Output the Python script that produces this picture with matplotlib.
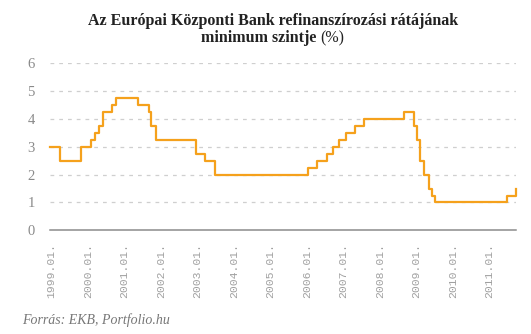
import numpy as np
import pandas as pd
import matplotlib
matplotlib.use("Agg")
import matplotlib.pyplot as plt

# EKB refinanszírozási ráta (minimum) - változás dátumai és szintek
change_dates = [
    "1999-01-01", "1999-04-09", "1999-11-05", "2000-02-04", "2000-03-17",
    "2000-04-28", "2000-06-09", "2000-09-01", "2000-10-06", "2001-05-11",
    "2001-08-31", "2001-09-18", "2001-11-09", "2002-12-06", "2003-03-07",
    "2003-06-06", "2005-12-06", "2006-03-08", "2006-06-15", "2006-08-09",
    "2006-10-11", "2006-12-13", "2007-03-14", "2007-06-13", "2008-07-09",
    "2008-10-15", "2008-11-12", "2008-12-10", "2009-01-21", "2009-03-11",
    "2009-04-08", "2009-05-13", "2011-04-13", "2011-07-13",
]
rates = [
    3.00, 2.50, 3.00, 3.25, 3.50,
    3.75, 4.25, 4.50, 4.75, 4.50,
    4.25, 3.75, 3.25, 2.75, 2.50,
    2.00, 2.25, 2.50, 2.75, 3.00,
    3.25, 3.50, 3.75, 4.00, 4.25,
    3.75, 3.25, 2.50, 2.00, 1.50,
    1.25, 1.00, 1.25, 1.50,
]
tick_years = list(range(1999, 2012))
tick_labels = [f"{y}.01." for y in tick_years]
y_ticks = [0, 1, 2, 3, 4, 5, 6]

# dátum -> év tört (1999.01.01 = 0)
d = pd.to_datetime(change_dates)
x = (d.year - 1999) + (d.dayofyear - 1) / 365.0
x = np.asarray(x, dtype=float)

fig = plt.figure(figsize=(5.31, 3.34), dpi=100)
ax = fig.add_axes([50 / 531, 1 - 230.3 / 334, 466 / 531, 167 / 334])

ax.plot(x, rates, drawstyle="steps-post", color="#F5A11C", lw=1.6,
        clip_on=False, zorder=3)

ax.set_xlim(0, x[-1])
ax.set_ylim(0, 6)

for v in y_ticks[1:]:
    ax.axhline(v, color="#cfcfcf", lw=0.9, ls=(0, (3, 4)), zorder=1)
ax.axhline(0, color="#8c8c8c", lw=1.1, zorder=2, clip_on=False)

for s in ax.spines.values():
    s.set_visible(False)

ax.set_yticks(y_ticks)
ax.set_yticklabels([str(v) for v in y_ticks], fontfamily="Liberation Serif",
                   fontsize=10.5, color="#8a8a8a")
ax.tick_params(axis="y", length=0, pad=11)

# a feliratok kicsit sűrűbben állnak, mint az adatskála
tick_pos = (np.array(tick_years) - 1999) * 0.981 + 0.045
ax.set_xticks(tick_pos)
ax.set_xticklabels(tick_labels, rotation=90, fontfamily="Liberation Mono",
                   fontsize=8.2, color="#a0a0a0")
ax.tick_params(axis="x", length=0, pad=9)

# cím
fig.text(273 / 531, 1 - 21 / 334, "Az Európai Központi Bank refinanszírozási rátájának",
         ha="center", va="center", fontfamily="Liberation Serif",
         fontweight="bold", fontsize=11.5, color="#222222")
t_bold = fig.text(0, 1 - 38 / 334, "minimum szintje ", ha="left", va="center",
                  fontfamily="Liberation Serif", fontweight="bold",
                  fontsize=11.5, color="#222222")
t_norm = fig.text(0, 1 - 38 / 334, "(%)", ha="left", va="center",
                  fontfamily="Liberation Serif", fontsize=11.5, color="#222222")
fig.canvas.draw()
r = fig.canvas.get_renderer()
w1 = t_bold.get_window_extent(r).width
w2 = t_norm.get_window_extent(r).width
x0 = 273 - (w1 + w2) / 2
t_bold.set_x(x0 / 531)
t_norm.set_x((x0 + w1) / 531)

fig.text(22 / 531, 1 - 320 / 334, "Forrás: EKB, Portfolio.hu", ha="left",
         va="center", fontfamily="Liberation Serif", fontstyle="italic",
         fontsize=10, color="#777777")

fig.savefig("out.png", dpi=100)
